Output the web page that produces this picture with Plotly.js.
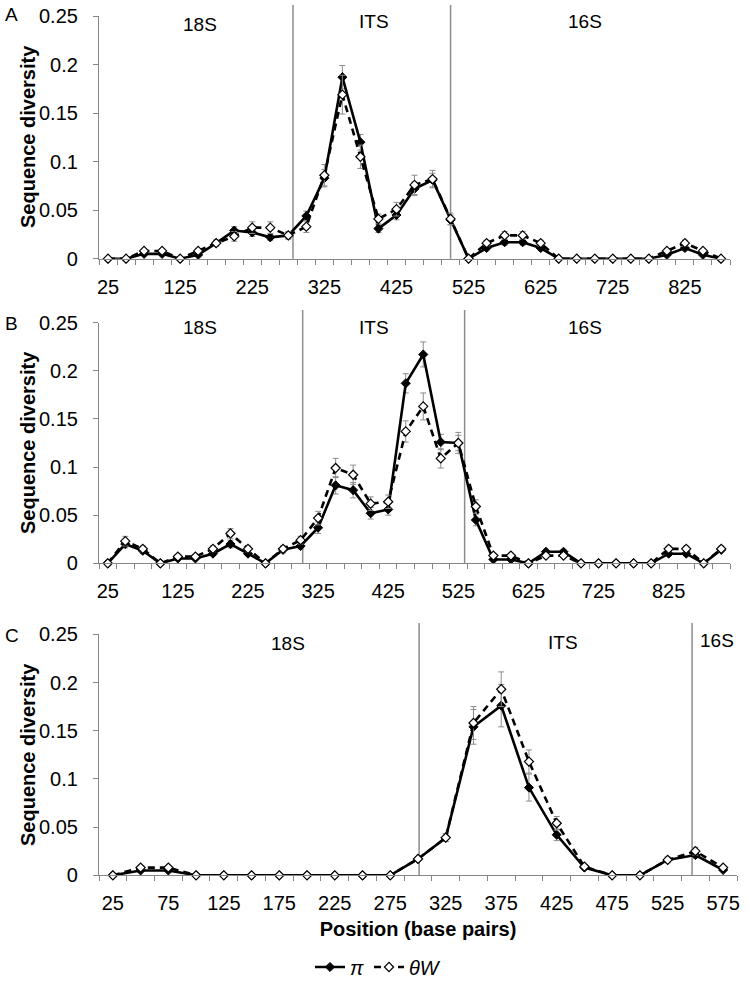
<!DOCTYPE html>
<html>
<head>
<meta charset="utf-8">
<script src="https://cdn.plot.ly/plotly-3.0.1.min.js"></script>
<style>html,body{margin:0;padding:0;background:#fff;}#chart{width:747px;height:981px;}</style>
</head>
<body>
<div id="chart"></div>
<script>
// ---------- data ----------
const posA = [25,50,75,100,125,150,175,200,225,250,275,300,325,350,375,400,425,450,475,500,525,550,575,600,625,650,675,700,725,750,775,800,825,850,875];
const piA  = [0,0,0.005,0.005,0,0.004,0.016,0.029,0.027,0.022,0.024,0.044,0.083,0.187,0.120,0.031,0.045,0.072,0.081,0.040,0,0.011,0.017,0.017,0.011,0,0,0,0,0,0,0.004,0.011,0.004,0];
const twA  = [0,0,0.008,0.008,0,0.008,0.016,0.023,0.032,0.032,0.024,0.033,0.086,0.169,0.105,0.041,0.051,0.076,0.082,0.041,0,0.016,0.024,0.024,0.016,0,0,0,0,0,0,0.008,0.016,0.008,0];
const piAerr = [0,0,0.002,0.002,0,0.002,0.003,0.004,0.004,0.003,0.003,0.005,0.009,0.012,0.008,0.004,0.005,0.007,0.007,0.005,0,0.002,0.003,0.003,0.002,0,0,0,0,0,0,0.001,0.002,0.001,0];
const twAerr = [0,0,0.002,0.002,0,0.002,0.003,0.005,0.006,0.006,0.004,0.006,0.011,0.020,0.012,0.005,0.007,0.010,0.009,0.006,0,0.003,0.004,0.004,0.003,0,0,0,0,0,0,0.002,0.003,0.002,0];

const posB = [25,50,75,100,125,150,175,200,225,250,275,300,325,350,375,400,425,450,475,500,525,550,575,600,625,650,675,700,725,750,775,800,825,850,875,900];
const piB  = [0,0.020,0.013,0,0.005,0.005,0.010,0.020,0.010,0,0.014,0.018,0.037,0.081,0.076,0.052,0.056,0.187,0.217,0.126,0.125,0.045,0.004,0.004,0,0.012,0.012,0,0,0,0,0,0.010,0.010,0,0.014];
const twB  = [0,0.023,0.015,0,0.007,0.007,0.015,0.031,0.015,0,0.015,0.024,0.047,0.099,0.092,0.062,0.064,0.137,0.163,0.109,0.125,0.059,0.008,0.008,0,0.008,0.008,0,0,0,0,0,0.015,0.015,0,0.015];
const piBerr = [0,0.004,0.003,0,0.001,0.001,0.002,0.004,0.002,0,0.003,0.003,0.006,0.009,0.008,0.006,0.006,0.010,0.013,0.008,0.008,0.006,0.001,0.001,0,0.002,0.002,0,0,0,0,0,0.002,0.002,0,0.002];
const twBerr = [0,0.005,0.003,0,0.002,0.002,0.003,0.005,0.003,0,0.003,0.004,0.007,0.010,0.010,0.007,0.007,0.011,0.014,0.010,0.011,0.007,0.002,0.002,0,0.002,0.002,0,0,0,0,0,0.003,0.003,0,0.003];

const posC = [25,50,75,100,125,150,175,200,225,250,275,300,325,350,375,400,425,450,475,500,525,550,575];
const piC  = [0,0.005,0.005,0,0,0,0,0,0,0,0,0.017,0.039,0.154,0.176,0.091,0.042,0.008,0,0,0.016,0.021,0.0055];
const twC  = [0,0.008,0.008,0,0,0,0,0,0,0,0,0.017,0.039,0.158,0.193,0.118,0.054,0.009,0,0,0.016,0.025,0.008];
const piCerr = [0,0.001,0.001,0,0,0,0,0,0,0,0,0.002,0.004,0.018,0.022,0.014,0.006,0.002,0,0,0.002,0.003,0.001];
const twCerr = [0,0.002,0.002,0,0,0,0,0,0,0,0,0.002,0.004,0.017,0.018,0.012,0.007,0.002,0,0,0.003,0.004,0.002];

const tickA = [25,125,225,325,425,525,625,725,825];
const tickB = [25,125,225,325,425,525,625,725,825];
const tickC = [25,75,125,175,225,275,325,375,425,475,525,575];

const regionNames = ['18S','ITS','16S'];
const boundA = [281.5, 500];
const boundB = [303, 534];
const boundC = [301, 547];
const panelLetters = ['A','B','C'];
const yTitle = 'Sequence diversity';
const xTitle = 'Position (base pairs)';

// ---------- layout helpers ----------
const W = 747, H = 981;
const fx = p => p / W;
const fy = p => 1 - p / H;
const FONT = 'Liberation Sans, Arial, sans-serif';
const AXC = '#868686';
const NB = '\u00A0';

function edges(pos){ const e=[pos[0]-12.5]; pos.forEach(p=>e.push(p+12.5)); return e; }

function trPair(pos, pi, tw, piErr, twErr, xa, ya, show){
  return [
    {x:pos, y:pi, xaxis:xa, yaxis:ya, type:'scatter', mode:'lines+markers', name:'<i>π</i>',
     showlegend:show, cliponaxis:false,
     line:{color:'#000', width:2.6},
     marker:{symbol:'diamond', size:7, color:'#000', line:{color:'#000', width:1}},
     error_y:{type:'data', array:piErr, visible:true, color:'#8c8c8c', thickness:1, width:3}},
    {x:pos, y:tw, xaxis:xa, yaxis:ya, type:'scatter', mode:'lines+markers', name:'<i>θW</i>',
     showlegend:show, cliponaxis:false,
     line:{color:'#000', width:2.6, dash:'7px,5px'},
     marker:{symbol:'diamond', size:7, color:'#fff', line:{color:'#000', width:1.2}},
     error_y:{type:'data', array:twErr, visible:true, color:'#8c8c8c', thickness:1, width:3}}
  ];
}

const data = [].concat(
  trPair(posA, piA, twA, piAerr, twAerr, 'x', 'y', false),
  trPair(posB, piB, twB, piBerr, twBerr, 'x2', 'y2', false),
  trPair(posC, piC, twC, piCerr, twCerr, 'x3', 'y3', true)
);

function xax(pos, ticks, domR, anchor){
  return {domain:[fx(99), fx(domR)], range:[pos[0]-12.5, pos[pos.length-1]+12.5], anchor:anchor,
    tickmode:'array', tickvals:ticks, ticktext:ticks.map(String), ticks:'', showgrid:false, zeroline:false,
    showline:true, linecolor:AXC, linewidth:1, ticklabelstandoff:10, automargin:false,
    tickfont:{family:FONT, size:20, color:'#000'},
    minor:{ticks:'outside', ticklen:5, tickcolor:AXC, tickwidth:1, tickmode:'array', tickvals:edges(pos), showgrid:false},
    fixedrange:true};
}
function yax(top, bot, anchor){
  return {domain:[fy(bot), fy(top)], range:[0,0.25], anchor:anchor, tickmode:'linear', tick0:0, dtick:0.05,
    ticks:'outside', ticklen:5, tickcolor:AXC, tickwidth:1, showgrid:false, zeroline:false,
    showline:true, linecolor:AXC, linewidth:1, ticksuffix:NB+NB, automargin:false,
    tickfont:{family:FONT, size:20, color:'#000'},
    fixedrange:true};
}

const layout = {
  width:W, height:H, margin:{l:0, r:0, t:0, b:0, autoexpand:false}, paper_bgcolor:'#fff', plot_bgcolor:'#fff',
  font:{family:FONT, size:19, color:'#000'},
  xaxis: xax(posA, tickA, 730, 'y'),
  yaxis: yax(16, 258.7, 'x'),
  xaxis2: xax(posB, tickB, 730, 'y2'),
  yaxis2: yax(322.7, 563.3, 'x2'),
  xaxis3: Object.assign(xax(posC, tickC, 737, 'y3'),
          {title:{text:'<b>' + xTitle + '</b>', font:{family:FONT, size:20, color:'#000'}, standoff:8}}),
  yaxis3: yax(634.3, 875.3, 'x3'),
  showlegend:true,
  legend:{orientation:'h', x:fx(378), y:fy(967), xanchor:'center', yanchor:'middle',
    font:{family:FONT, size:20, color:'#000'}, bgcolor:'rgba(0,0,0,0)'},
  shapes:[], annotations:[]
};

const bounds = [[boundA,'x',5,258.7],[boundB,'x2',310,563.3],[boundC,'x3',623,875.3]];
bounds.forEach(([b,xa,t,bt])=>{
  b.forEach(v=>layout.shapes.push({type:'line', xref:xa, yref:'paper', x0:v, x1:v, y0:fy(bt), y1:fy(t),
    line:{color:'#8c8c8c', width:1.5}, layer:'below'}));
});

const labelPos = [
  [[200,24],[374,22],[585,22]],
  [[200,328],[374,328],[585,328]],
  [[288,643],[563,642],[717,640]]
];
labelPos.forEach(row=>row.forEach((p,i)=>{
  layout.annotations.push({text:regionNames[i], xref:'paper', yref:'paper', x:fx(p[0]), y:fy(p[1]),
    xanchor:'center', yanchor:'middle', showarrow:false, font:{family:FONT, size:19, color:'#000'}});
}));
[[12,15],[12,323],[12,635]].forEach((p,i)=>{
  layout.annotations.push({text:panelLetters[i], xref:'paper', yref:'paper', x:fx(p[0]), y:fy(p[1]),
    xanchor:'center', yanchor:'middle', showarrow:false, font:{family:FONT, size:19, color:'#000'}});
});
[137, 443, 755].forEach(cy=>{
  layout.annotations.push({text:'<b>' + yTitle + '</b>', xref:'paper', yref:'paper', x:fx(28), y:fy(cy),
    xanchor:'center', yanchor:'middle', textangle:-90, showarrow:false, font:{family:FONT, size:20, color:'#000'}});
});

Plotly.newPlot('chart', data, layout, {displayModeBar:false, staticPlot:true});
</script>
</body>
</html>
